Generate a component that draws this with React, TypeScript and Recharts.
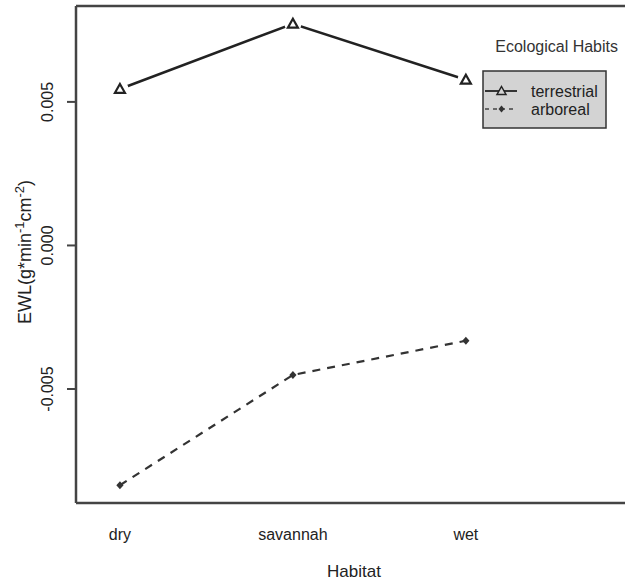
import { LineChart, Line, XAxis, YAxis, ReferenceLine, Legend } from "recharts";

const habitats = ["dry", "savannah", "wet"];
const terrestrial = [0.00545, 0.00772, 0.00577];
const arboreal = [-0.00835, -0.00451, -0.00332];
const yTicks = [-0.005, 0, 0.005];

const Y_MIN = -0.00897;
const Y_MAX = 0.00834;
const AXIS = "#444";
const FONT = "'Liberation Sans', Arial, sans-serif";

const data = habitats.map((h, i) => ({
  x: i + 1,
  habitat: h,
  terrestrial: terrestrial[i],
  arboreal: arboreal[i],
}));

// open triangle (pch=2) with a white gap round it, like R's type="b"
function TriangleDot(props: any) {
  const { cx, cy } = props;
  if (cx == null || cy == null) return null;
  return (
    <g>
      <circle cx={cx} cy={cy} r={8.5} fill="#fff" />
      <path
        d={`M${cx},${cy - 5} L${cx + 5},${cy + 3.8} L${cx - 5},${cy + 3.8} Z`}
        fill="#fff"
        stroke="#222"
        strokeWidth={2.2}
        strokeLinejoin="miter"
      />
    </g>
  );
}

function DiamondDot(props: any) {
  const { cx, cy } = props;
  if (cx == null || cy == null) return null;
  return (
    <path
      d={`M${cx},${cy - 4} L${cx + 3.6},${cy} L${cx},${cy + 4} L${cx - 3.6},${cy} Z`}
      fill="#333"
    />
  );
}

function YTick(props: any) {
  const { x, y, payload } = props;
  return (
    <text
      transform={`translate(${x - 14},${y}) rotate(-90)`}
      textAnchor="middle"
      fontSize={16}
      fontFamily={FONT}
      fill="#222"
    >
      {payload.value.toFixed(3)}
    </text>
  );
}

function XTick(props: any) {
  const { x, y, payload } = props;
  return (
    <text x={x} y={y + 35} textAnchor="middle" fontSize={16} fontFamily={FONT} fill="#222">
      {habitats[payload.value - 1]}
    </text>
  );
}

function YLabel() {
  return (
    <text
      transform="translate(31,252) rotate(-90)"
      textAnchor="middle"
      fontSize={18}
      fontFamily={FONT}
      fill="#222"
    >
      EWL(g*min
      <tspan fontSize={13} dy={-7}>-1</tspan>
      <tspan dy={7}>cm</tspan>
      <tspan fontSize={13} dy={-7}>-2</tspan>
      <tspan dy={7}>)</tspan>
    </text>
  );
}

function XLabel() {
  return (
    <text x={354} y={577} textAnchor="middle" fontSize={17} fontFamily={FONT} fill="#222">
      Habitat
    </text>
  );
}

function HabitsLegend() {
  return (
    <svg width={145} height={105} style={{ display: "block" }}>
      <text x={138} y={22} textAnchor="end" fontSize={16} fontFamily={FONT} fill="#333">
        Ecological Habits
      </text>
      <rect x={3} y={41} width={123} height={57} fill="#d3d3d3" stroke="#333" strokeWidth={1.5} />
      <line x1={5} y1={61} x2={37} y2={61} stroke="#222" strokeWidth={1.8} />
      <path d="M21.5,56.5 L26,64.5 L17,64.5 Z" fill="#d3d3d3" stroke="#222" strokeWidth={1.5} />
      <line x1={5} y1={79} x2={37} y2={79} stroke="#444" strokeWidth={1.5} strokeDasharray="4 4" />
      <path d="M21.5,75.5 L24.5,79 L21.5,82.5 L18.5,79 Z" fill="#333" />
      <text x={51} y={66.5} fontSize={16} fontFamily={FONT} fill="#222">terrestrial</text>
      <text x={51} y={84.5} fontSize={16} fontFamily={FONT} fill="#222">arboreal</text>
    </svg>
  );
}

export default function App() {
  return (
    <div style={{ position: "absolute", left: 0, top: 0, width: 625, height: 581, background: "#fff" }}>
      <LineChart width={625} height={581} data={data} margin={{ top: 6, right: 0, left: 0, bottom: 0 }}>
        <XAxis
          type="number"
          dataKey="x"
          domain={[0.746, 3.92]}
          ticks={[1, 2, 3]}
          allowDataOverflow
          height={78}
          tickSize={0}
          tickLine={false}
          tick={<XTick />}
          axisLine={{ stroke: AXIS, strokeWidth: 2.5 }}
          label={<XLabel />}
        />
        <YAxis
          type="number"
          domain={[Y_MIN, Y_MAX]}
          ticks={yTicks}
          allowDataOverflow
          width={76}
          tickSize={9}
          tickMargin={0}
          tickLine={{ stroke: AXIS, strokeWidth: 2 }}
          tick={<YTick />}
          axisLine={{ stroke: AXIS, strokeWidth: 2.5 }}
          label={<YLabel />}
        />
        <ReferenceLine y={Y_MAX} stroke={AXIS} strokeWidth={2.5} ifOverflow="visible" />
        <Legend
          layout="horizontal"
          verticalAlign="middle"
          align="center"
          content={<HabitsLegend />}
          wrapperStyle={{ position: "absolute", left: 480, top: 30, width: 145, height: 105 }}
        />
        <Line
          dataKey="arboreal"
          stroke="#333"
          strokeWidth={2.2}
          strokeDasharray="8 7"
          dot={<DiamondDot />}
          activeDot={false}
          isAnimationActive={false}
        />
        <Line
          dataKey="terrestrial"
          stroke="#222"
          strokeWidth={2.5}
          dot={<TriangleDot />}
          activeDot={false}
          isAnimationActive={false}
        />
      </LineChart>
    </div>
  );
}
